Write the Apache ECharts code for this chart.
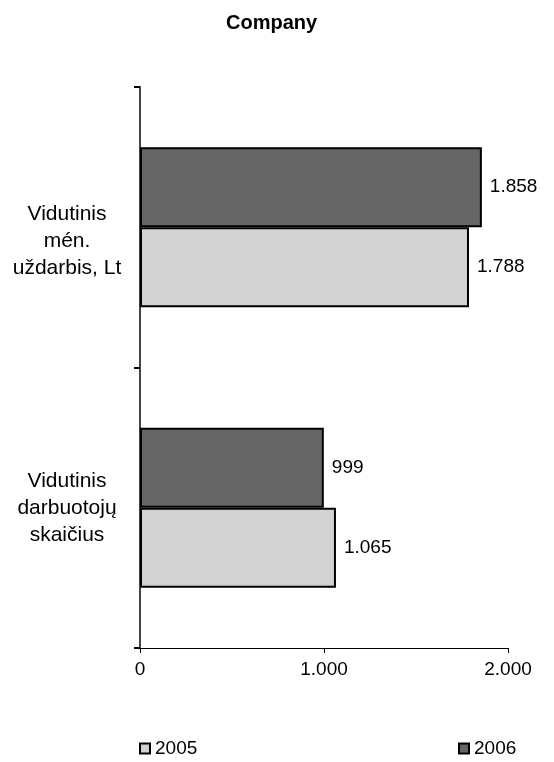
<!DOCTYPE html>
<html>
<head>
<meta charset="utf-8">
<script src="https://cdn.jsdelivr.net/npm/echarts@6/dist/echarts.min.js"></script>
<style>
  html, body { margin: 0; padding: 0; background: #fff; }
  #chart { width: 554px; height: 762px; }
</style>
</head>
<body>
<div id="chart"></div>
<script>
// Categories (top to bottom) and yearly values
const categories = ['Vidutinis\nmén.\nuždarbis, Lt', 'Vidutinis\ndarbuotojų\nskaičius'];
const years = ['2005', '2006'];
const values2005 = [1788, 1065];
const values2006 = [1858, 999];
const xTicks = { min: 0, max: 2000, interval: 1000 };

// Thousands separated with a dot
function fmt(v) {
  const s = String(Math.round(v));
  return s.replace(/\B(?=(\d{3})+(?!\d))/g, '.');
}

const FONT = 'Liberation Sans, Arial, sans-serif';
const FS = 19;
const chart = echarts.init(document.getElementById('chart'), null, { renderer: 'canvas' });

const barStyle = (color) => ({
  color: color,
  borderColor: '#000',
  borderWidth: 2
});

const valueLabel = {
  show: true, position: 'right', distance: 8, formatter: (p) => fmt(p.value),
  fontFamily: FONT, fontSize: FS, color: '#000'
};

const legendBase = {
  top: 739, padding: 0, icon: 'rect', itemWidth: 10, itemHeight: 10,
  textStyle: { fontFamily: FONT, fontSize: FS, color: '#000' }
};

chart.setOption({
  animation: false,
  backgroundColor: '#fff',
  title: {
    text: 'Company',
    left: 221,
    top: 8,
    textStyle: { fontFamily: FONT, fontSize: 20, fontWeight: 'bold', color: '#000' }
  },
  legend: [
    Object.assign({ data: [years[0]], left: 139 }, legendBase),
    Object.assign({ data: [years[1]], left: 458 }, legendBase)
  ],
  grid: { left: 140, right: 46, top: 87, bottom: 114, containLabel: false, outerBoundsMode: 'none' },
  xAxis: {
    type: 'value',
    min: xTicks.min, max: xTicks.max, interval: xTicks.interval,
    axisLine: { show: true, lineStyle: { color: '#000', width: 1 } },
    axisTick: { show: true, length: 5, lineStyle: { color: '#000' } },
    splitLine: { show: false },
    axisLabel: {
      formatter: fmt, margin: 12,
      fontFamily: FONT, fontSize: FS, color: '#000'
    }
  },
  yAxis: {
    type: 'category',
    data: categories,
    inverse: true,
    axisLine: { show: true, lineStyle: { color: '#444', width: 2 } },
    axisTick: { show: true, length: 6, lineStyle: { color: '#000', width: 2 } },
    axisLabel: {
      margin: 73, align: 'center', lineHeight: 27,
      fontFamily: FONT, fontSize: 21, color: '#000',
      // the upper label block sits half a line below its band centre
      formatter: (v, i) => (i === 0 ? '\n' + v : v)
    }
  },
  series: [
    {
      name: years[1], type: 'bar', data: values2006,
      barWidth: 80, barGap: '0%',
      itemStyle: barStyle('#666666'),
      label: valueLabel
    },
    {
      name: years[0], type: 'bar', data: values2005,
      barWidth: 80, barGap: '0%',
      itemStyle: barStyle('#d2d2d2'),
      label: valueLabel
    }
  ]
});
</script>
</body>
</html>
